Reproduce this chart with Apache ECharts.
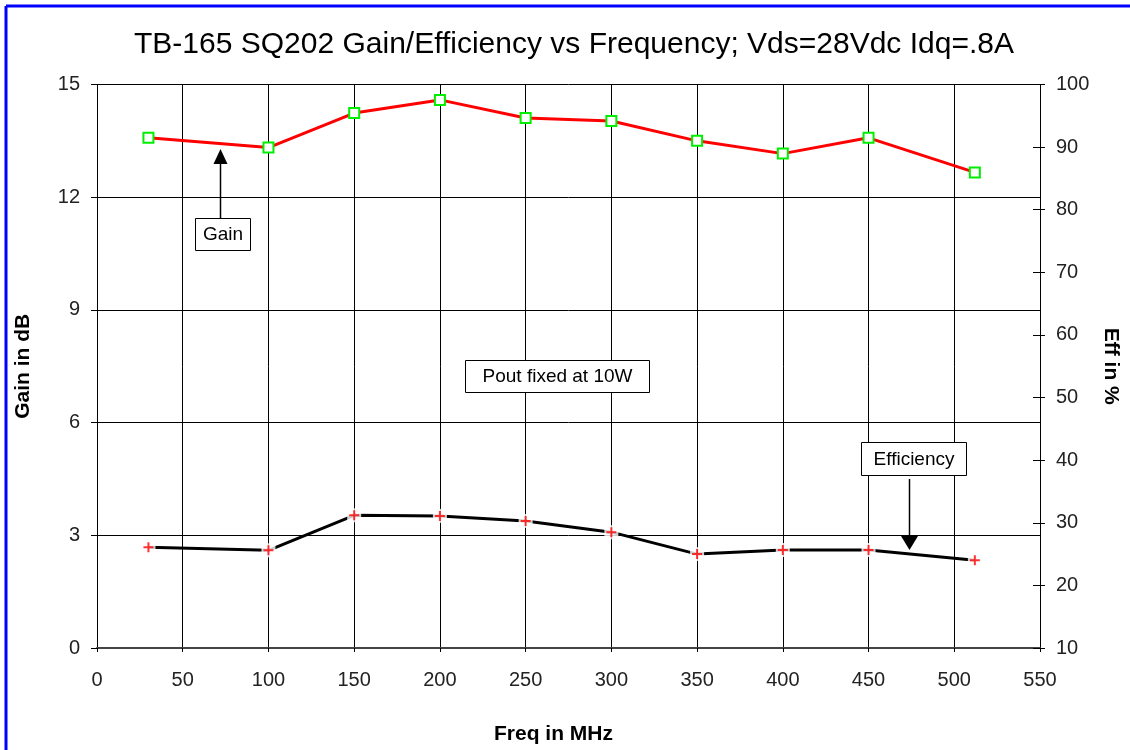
<!DOCTYPE html>
<html>
<head>
<meta charset="utf-8">
<script src="https://cdn.jsdelivr.net/npm/echarts@6/dist/echarts.min.js"></script>
<style>
html,body{margin:0;padding:0;background:#fff;}
#c{width:1130px;height:750px;}
</style>
</head>
<body>
<div id="c"></div>
<script>
// Data
const freqMHz = [30, 100, 150, 200, 250, 300, 350, 400, 450, 512];
const gainDb = [13.58, 13.32, 14.24, 14.59, 14.11, 14.03, 13.50, 13.16, 13.58, 12.66];
const effPct = [26.1, 25.6, 31.2, 31.1, 30.3, 28.5, 25.0, 25.65, 25.65, 24.0];
const xTicks = [0, 50, 100, 150, 200, 250, 300, 350, 400, 450, 500, 550];
const gainTicks = [0, 3, 6, 9, 12, 15];
const effTicks = [10, 20, 30, 40, 50, 60, 70, 80, 90, 100];

const FONT = '"Liberation Sans", Arial, sans-serif';

const gainPts = freqMHz.map((f, i) => [f, gainDb[i]]);
const effPts = freqMHz.map((f, i) => [f, effPct[i]]);

const chart = echarts.init(document.getElementById('c'), null, {renderer: 'canvas'});

const plusPath = 'path://M4,0H6V4H10V6H6V10H4V6H0V4H4Z';

chart.setOption({
  backgroundColor: '#fff',
  animation: false,
  title: {
    text: 'TB-165 SQ202 Gain/Efficiency vs Frequency; Vds=28Vdc Idq=.8A',
    left: 134, top: 30, padding: 0,
    textStyle: {fontFamily: FONT, fontSize: 30, fontWeight: 'normal', color: '#000'}
  },
  grid: {left: 97, right: 90, top: 84.5, bottom: 102, show: false, outerBoundsMode: 'none', containLabel: false},
  xAxis: {
    type: 'value', min: xTicks[0], max: xTicks[xTicks.length - 1], interval: 50,
    name: 'Freq in MHz', nameLocation: 'middle', nameGap: 76,
    nameTextStyle: {fontFamily: FONT, fontSize: 21, fontWeight: 'bold', color: '#000', padding: [0, 30, 0, 0]},
    axisLine: {show: true, lineStyle: {color: '#444', width: 2}},
    axisTick: {show: true, inside: false, length: 4, lineStyle: {color: '#000'}},
    axisLabel: {fontFamily: FONT, fontSize: 20, color: '#222', margin: 22},
    splitLine: {show: true, lineStyle: {color: '#000', width: 1}}
  },
  yAxis: [
    {
      type: 'value', min: gainTicks[0], max: gainTicks[gainTicks.length - 1], interval: 3,
      position: 'left',
      name: 'Gain in dB', nameLocation: 'middle', nameGap: 63, nameRotate: 90,
      nameTextStyle: {fontFamily: FONT, fontSize: 21, fontWeight: 'bold', color: '#000'},
      axisLine: {show: true, lineStyle: {color: '#000', width: 1}},
      axisTick: {show: true, inside: false, length: 6, lineStyle: {color: '#000'}},
      axisLabel: {fontFamily: FONT, fontSize: 20, color: '#222', margin: 17},
      splitLine: {show: true, lineStyle: {color: '#000', width: 1}}
    },
    {
      type: 'value', min: effTicks[0], max: effTicks[effTicks.length - 1], interval: 10,
      position: 'right',
      name: 'Eff in %', nameLocation: 'middle', nameGap: 59, nameRotate: -90,
      nameTextStyle: {fontFamily: FONT, fontSize: 21, fontWeight: 'bold', color: '#000'},
      axisLine: {show: true, lineStyle: {color: '#000', width: 1}},
      axisTick: {show: true, inside: false, length: 5, lineStyle: {color: '#000'}},
      axisLabel: {fontFamily: FONT, fontSize: 20, color: '#222', margin: 16},
      splitLine: {show: false}
    },
    {
      type: 'value', min: effTicks[0], max: effTicks[effTicks.length - 1], interval: 10,
      position: 'right',
      axisLine: {show: false},
      axisTick: {show: true, inside: true, length: 7, lineStyle: {color: '#000'}},
      axisLabel: {show: false},
      splitLine: {show: false}
    }
  ],
  series: [
    {
      name: 'Gain', type: 'line', yAxisIndex: 0, data: gainPts,
      lineStyle: {color: '#ff0000', width: 3},
      symbol: 'rect', symbolSize: 10,
      itemStyle: {color: '#ffffff', borderColor: '#00ee00', borderWidth: 2},
      z: 5
    },
    {
      name: 'Efficiency', type: 'line', yAxisIndex: 1, data: effPts,
      lineStyle: {color: '#000', width: 3},
      showSymbol: false, symbol: 'none',
      z: 3
    },
    {
      name: 'EffMask', type: 'scatter', yAxisIndex: 1, data: effPts,
      symbol: 'rect', symbolSize: 14,
      itemStyle: {color: '#ffffff'},
      z: 4
    },
    {
      name: 'EffMarker', type: 'scatter', yAxisIndex: 1, data: effPts,
      symbol: plusPath, symbolSize: 10,
      itemStyle: {color: '#ff0000'},
      z: 6
    }
  ],
  graphic: [
    // Blue frame
    {type: 'line', shape: {x1: 6, y1: 6, x2: 1130, y2: 6}, style: {stroke: '#0000ff', lineWidth: 3}, z: 100},
    {type: 'line', shape: {x1: 6, y1: 6, x2: 6, y2: 750}, style: {stroke: '#0000ff', lineWidth: 3}, z: 100},
    // Gain label with arrow
    {type: 'line', shape: {x1: 220.5, y1: 218, x2: 220.5, y2: 160}, style: {stroke: '#000', lineWidth: 1.5}, z: 50},
    {type: 'polygon', shape: {points: [[220.5, 149], [213.5, 164], [227.5, 164]]}, style: {fill: '#000'}, z: 50},
    {type: 'rect', shape: {x: 195.5, y: 218.5, width: 55, height: 32}, style: {fill: '#fff', stroke: '#000', lineWidth: 1}, z: 50},
    {type: 'text', x: 223, y: 235, style: {text: 'Gain', font: '19px "Liberation Sans", Arial, sans-serif', fill: '#000', align: 'center', verticalAlign: 'middle'}, z: 51},
    // Pout label
    {type: 'rect', shape: {x: 465.5, y: 360.5, width: 184, height: 32}, style: {fill: '#fff', stroke: '#000', lineWidth: 1}, z: 50},
    {type: 'text', x: 557.5, y: 377, style: {text: 'Pout fixed at 10W', font: '19px "Liberation Sans", Arial, sans-serif', fill: '#000', align: 'center', verticalAlign: 'middle'}, z: 51},
    // Efficiency label with arrow
    {type: 'line', shape: {x1: 909.5, y1: 479, x2: 909.5, y2: 538}, style: {stroke: '#000', lineWidth: 1.5}, z: 50},
    {type: 'polygon', shape: {points: [[909.5, 550], [901, 536], [918, 536]]}, style: {fill: '#000'}, z: 50},
    {type: 'rect', shape: {x: 861.5, y: 442.5, width: 105, height: 33}, style: {fill: '#fff', stroke: '#000', lineWidth: 1}, z: 50},
    {type: 'text', x: 914, y: 460, style: {text: 'Efficiency', font: '19px "Liberation Sans", Arial, sans-serif', fill: '#000', align: 'center', verticalAlign: 'middle'}, z: 51}
  ]
});
</script>
</body>
</html>
